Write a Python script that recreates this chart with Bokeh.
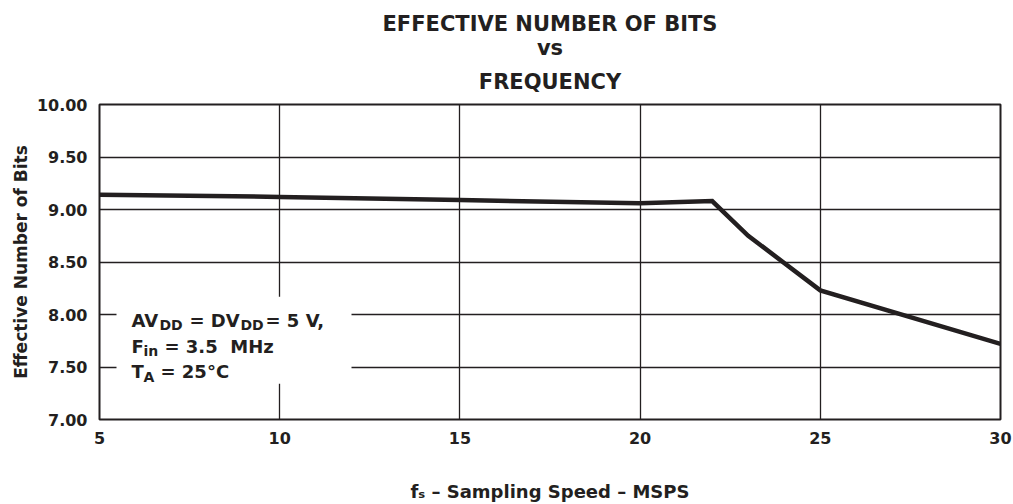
from bokeh.plotting import figure
from bokeh.models import Label, BoxAnnotation, FixedTicker, Range1d, Title
from bokeh.embed import file_html
from bokeh.resources import INLINE

# ---- data ----
fs_msps = [5, 10, 15, 20, 22, 23, 25, 30]
enob = [9.14, 9.12, 9.09, 9.06, 9.08, 8.75, 8.23, 7.72]
x_ticks = [5, 10, 15, 20, 25, 30]
y_ticks = [7.0, 7.5, 8.0, 8.5, 9.0, 9.5, 10.0]
y_tick_labels = {7.0: "7.00", 7.5: "7.50", 8.0: "8.00", 8.5: "8.50",
                 9.0: "9.00", 9.5: "9.50", 10.0: "10.00"}
title_lines = ["EFFECTIVE NUMBER OF BITS", "vs", "FREQUENCY"]
x_label = "fₛ – Sampling Speed – MSPS"
y_label = "Effective Number of Bits"

INK = "#231f20"
FONT = "DejaVu Sans"
W, H = 1013, 504
L, R, T, B = 99, 1000, 104, 422
X0, X1, Y0, Y1 = 5, 30, 7.0, 10.0

p = figure(width=W, height=H, output_backend="svg", toolbar_location=None,
           x_range=Range1d(X0, X1), y_range=Range1d(Y0, Y1),
           min_border_left=L, min_border_right=W - R,
           min_border_top=T, min_border_bottom=H - B)
p.background_fill_color = "white"
p.border_fill_color = "white"
p.outline_line_color = INK
p.outline_line_width = 2
p.title = None

# title: three centred lines, nearest the plot added first
for text, standoff in zip(reversed(title_lines), (22, -7, 3)):
    p.add_layout(Title(text=text, align="center", text_font=FONT,
                       text_font_style="bold", text_font_size="21px",
                       text_color=INK, standoff=standoff, offset=8), "above")

# grid
p.xgrid.ticker = FixedTicker(ticks=x_ticks)
p.ygrid.ticker = FixedTicker(ticks=y_ticks)
for g in (p.xgrid, p.ygrid):
    g.grid_line_color = INK
    g.grid_line_width = 1.3
    g.grid_line_alpha = 1.0

# axes
p.xaxis.ticker = FixedTicker(ticks=x_ticks)
p.yaxis.ticker = FixedTicker(ticks=y_ticks)
p.yaxis.major_label_overrides = y_tick_labels
for ax in (p.xaxis, p.yaxis):
    ax.axis_line_color = None
    ax.major_tick_line_color = None
    ax.minor_tick_line_color = None
    ax.major_tick_out = 0
    ax.major_tick_in = 0
    ax.major_label_text_font = FONT
    ax.major_label_text_font_style = "bold"
    ax.major_label_text_font_size = "16px"
    ax.major_label_text_color = INK
    ax.axis_label_text_font = FONT
    ax.axis_label_text_font_style = "bold"
    ax.axis_label_text_color = INK

p.yaxis.major_label_standoff = 12
p.yaxis.axis_label = y_label
p.yaxis.axis_label_text_font_size = "17px"
p.yaxis.axis_label_standoff = 3

p.xaxis.major_label_standoff = 12
p.xaxis.axis_label = x_label
p.xaxis.axis_label_text_font_size = "18px"
p.xaxis.axis_label_text_line_height = 0.9
p.xaxis.axis_label_standoff = 34


def dx(px):
    return X0 + (px - L) / (R - L) * (X1 - X0)


def dy(py):
    return Y0 + (B - py) / (B - T) * (Y1 - Y0)


# white box behind condition text
p.add_layout(BoxAnnotation(left=dx(116), right=dx(351), top=dy(298), bottom=dy(386),
                           fill_color="white", fill_alpha=1.0, line_color=None,
                           level="underlay"))

# data line
p.line(fs_msps, enob, line_color=INK, line_width=4.5, line_join="miter")


def lab(text, px, py, size):
    p.add_layout(Label(x=dx(px), y=dy(py), text=text, text_font=FONT,
                       text_font_style="bold", text_font_size=f"{size}px",
                       text_color=INK, text_align="left",
                       text_baseline="alphabetic"))


# test conditions
lab("AV", 131, 322, 18)
lab("DD", 159, 327, 14)
lab("= DV", 189, 322, 18)
lab("DD", 240, 327, 14)
lab("= 5 V,", 265, 322, 18)
lab("F", 131, 348, 18)
lab("in", 143, 353, 14)
lab("= 3.5\u00a0 MHz", 164, 348, 18)
lab("T", 131, 374, 18)
lab("A", 143, 379, 14)
lab("= 25°C", 160, 374, 18)

open("out.html", "w").write(file_html(p, INLINE))
